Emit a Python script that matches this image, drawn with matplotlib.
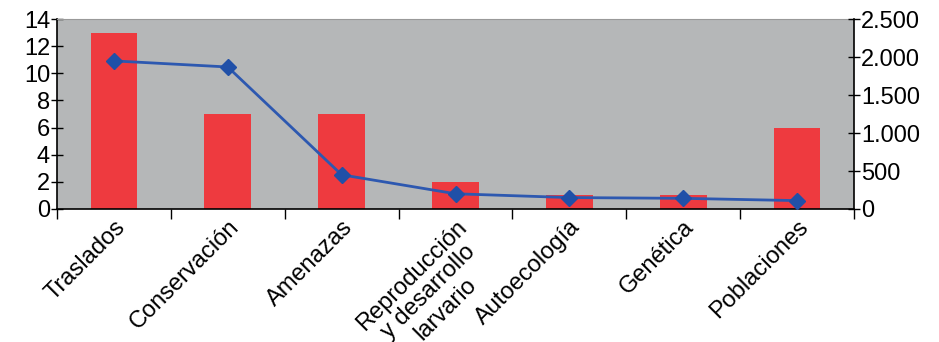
import matplotlib
matplotlib.use("Agg")
import matplotlib.pyplot as plt
from matplotlib.ticker import FuncFormatter
import numpy as np

# data
categorias = ["Traslados", "Conservación", "Amenazas",
              "Reproducción\ny desarrollo\nlarvario", "Autoecología",
              "Genética", "Poblaciones"]
barras = [13, 7, 7, 2, 1, 1, 6]
linea = [1950, 1870, 450, 200, 150, 140, 110]

plt.rcParams['font.family'] = ['Liberation Sans', 'DejaVu Sans']

fig = plt.figure(figsize=(9.39, 3.42), dpi=100)
ax = fig.add_axes([0.0607, 0.389, 0.8488, 0.555])
ax.set_facecolor("#b5b7b8")

x = np.arange(len(categorias))
ax.bar(x, barras, width=0.41, color="#ee3a3f", zorder=2)
ax.set_xlim(-0.5, len(categorias) - 0.5)
ax.set_ylim(0, 14)
ax.set_yticks(range(0, 15, 2))
ax.tick_params(axis="y", direction="inout", length=8, width=1, labelsize=17, pad=1)

# category labels between boundary ticks
ax.set_xticks(np.arange(len(categorias) + 1) - 0.5)
ax.set_xticklabels([])
ax.tick_params(axis="x", direction="out", length=7, width=1)
ax.set_xticks(x, minor=True)
ax.set_xticklabels(categorias, minor=True, rotation=45, ha="right",
                   rotation_mode="anchor", fontsize=17, multialignment="center",
                   linespacing=1.1)
ax.tick_params(axis="x", which="minor", length=0, pad=5)

for s in ["left", "bottom"]:
    ax.spines[s].set_color("black")
    ax.spines[s].set_linewidth(1.2)
ax.spines["top"].set_color("#999999")
ax.spines["right"].set_visible(False)

ax2 = ax.twinx()
ax2.plot(x, linea, color="#2d58b0", lw=2, marker="D", markersize=8,
         markerfacecolor="#2050a8", markeredgecolor="#2050a8", zorder=3)
ax2.set_ylim(0, 2500)
ax2.set_yticks(range(0, 2501, 500))
ax2.yaxis.set_major_formatter(FuncFormatter(lambda v, p: f"{int(v):,}".replace(",", ".")))
ax2.tick_params(axis="y", direction="inout", length=8, width=1, labelsize=17, pad=1)
for s in ["left", "top", "bottom"]:
    ax2.spines[s].set_visible(False)
ax2.spines["right"].set_color("black")
ax2.spines["right"].set_linewidth(1.2)

fig.savefig("out.png", dpi=100)
